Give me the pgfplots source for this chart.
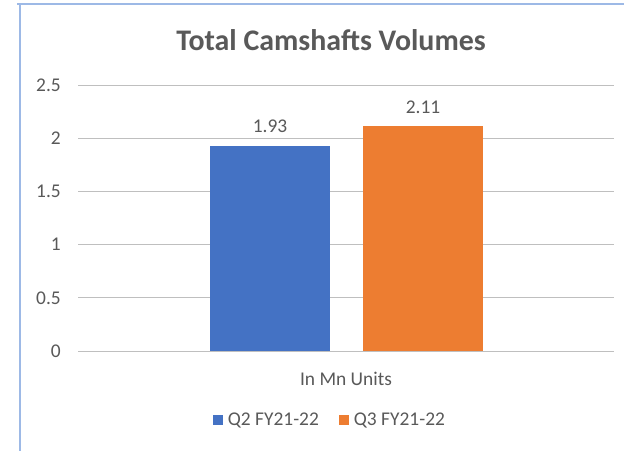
\documentclass[border=0pt]{standalone}
\usepackage{pgfplots}
\pgfplotsset{compat=1.18}
\usepackage{fontspec}
\setmainfont{Carlito}
\definecolor{txt}{HTML}{595959}
\definecolor{grid}{HTML}{D9D9D9}
\definecolor{cblue}{HTML}{4472C4}
\definecolor{corange}{HTML}{ED7D31}
\definecolor{frame}{HTML}{9DB9E6}
\begin{document}
\begin{tikzpicture}[x=1bp,y=1bp]
\useasboundingbox (0,0) rectangle (624,451);
\fill[white] (0,0) rectangle (624,451);
\draw[frame,line width=1.2bp] (17,447) -- (624,447);
\draw[frame,line width=1.2bp] (20,447) -- (20,0);
\begin{axis}[
  at={(78bp,100bp)}, anchor=south west,
  scale only axis, width=536bp, height=266bp,
  xmin=-1, xmax=1, ymin=0, ymax=2.5,
  ytick={0,0.5,1,1.5,2,2.5},
  yticklabels={0,0.5,1,1.5,2,2.5},
  xtick=\empty,
  axis line style={draw=none},
  major tick length=0pt,
  ymajorgrids, grid style={grid, line width=0.9bp},
  yticklabel style={font=\fontsize{19.5}{22}\selectfont, text=txt, inner xsep=0pt, xshift=-17bp},
  /pgf/number format/assume math mode=true,
  ybar, bar width=120bp,
  nodes near coords,
  nodes near coords style={font=\fontsize{19.5}{22}\selectfont, text=txt, /pgf/number format/fixed, /pgf/number format/precision=2, yshift=9bp},
  xlabel={In Mn Units},
  xlabel style={at={(axis description cs:0.5,-0.105)}, anchor=center, font=\fontsize{19.5}{22}\selectfont, text=txt},
  title={\bfseries Total Camshafts Volumes},
  title style={at={(axis description cs:0.472,1.145)}, anchor=center, font=\fontsize{30}{34}\selectfont, text=txt},
  legend columns=2,
  legend style={at={(axis description cs:0.47,-0.259)}, anchor=center, draw=none, font=\fontsize{19.5}{22}\selectfont, text=txt,
    /tikz/every odd column/.append style={column sep=3bp},
    /tikz/every even column/.append style={column sep=18bp}},
  legend image code/.code={\fill[#1] (0bp,-5bp) rectangle (10bp,5bp);},
]
\addplot[fill=cblue, draw=none, bar shift=-76bp] coordinates {(0,1.93)};
\addplot[fill=corange, draw=none, bar shift=77bp] coordinates {(0,2.11)};
\legend{Q2 FY21-22, Q3 FY21-22}
\end{axis}
\end{tikzpicture}
\end{document}
